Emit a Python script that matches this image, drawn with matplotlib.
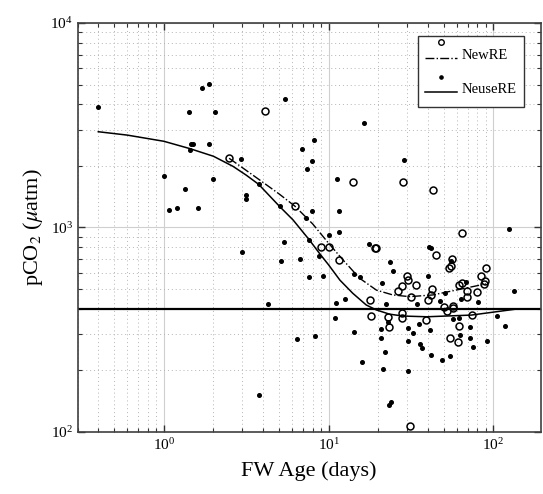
import numpy as np
import matplotlib
matplotlib.use('Agg')
import matplotlib.pyplot as plt
from matplotlib.lines import Line2D
from matplotlib.legend_handler import HandlerLine2DCompound

# pCO2 vs freshwater age, two estuaries, log-log

plt.rcParams['font.family'] = ['Liberation Serif', 'DejaVu Serif']
plt.rcParams['mathtext.fontset'] = 'stix'

# NewRE observations (open circles)
new_age = [2.49, 4.13, 14.0, 28.4, 42.7, 6.25, 64.3, 8.98, 10.1, 19.0, 19.4, 11.6,
           17.8, 18.1, 23.0, 23.1, 27.7, 26.4, 29.7, 30.3, 34.0, 31.8, 27.8, 27.8,
           31.3, 39.0, 42.1, 40.0, 41.7, 44.9, 49.8, 52.1, 53.6, 55.1, 56.0, 56.6,
           56.6, 54.4, 61.1, 62.0, 61.6, 64.0, 68.9, 68.9, 73.8, 79.2, 84.2, 89.5,
           89.1, 87.9]
new_pco2 = [2180, 3720, 1660, 1660, 1520, 1270, 940, 806, 806, 791, 791, 693,
            442, 368, 365, 325, 519, 488, 577, 553, 524, 456, 382, 361,
            107, 353, 500, 442, 469, 734, 408, 392, 631, 646, 698, 415,
            404, 287, 277, 330, 524, 535, 491, 459, 373, 485, 579, 631,
            550, 527]

# NeuseRE observations (dots)
neuse_age = [0.40, 1.43, 1.70, 1.89, 2.05, 1.47, 1.50, 1.44, 1.89, 1.00, 2.00, 1.35,
             1.07, 1.20, 1.62, 2.92, 3.14, 3.14, 3.76, 5.43, 16.5, 6.89, 8.19, 7.89,
             7.39, 28.6, 11.3, 11.6, 5.05, 7.26, 7.89, 7.56, 5.39, 11.5, 10.1, 125,
             17.5, 40.5, 41.5, 2.96, 5.14, 6.70, 8.78, 7.64, 9.29, 14.2, 15.4, 21.2,
             4.29, 11.1, 12.6, 22.2, 11.0, 20.7, 20.7, 14.2, 6.40, 8.30, 22.1, 16.0,
             21.5, 3.80, 23.9, 23.3, 24.5, 23.5, 22.9, 30.5, 30.5, 32.7, 30.5, 34.4,
             35.3, 36.0, 36.9, 40.0, 41.3, 41.7, 47.1, 48.9, 50.7, 55.6, 54.7, 56.6,
             61.6, 63.1, 63.7, 68.2, 72.2, 71.6, 75.0, 80.8, 91.6, 105, 117, 134]
neuse_pco2 = [3900, 3680, 4800, 5050, 3680, 2560, 2570, 2400, 2560, 1790, 1730, 1540,
              1220, 1250, 1240, 2160, 1440, 1380, 1640, 4270, 3250, 2420, 2670, 2120,
              1930, 2130, 1720, 1200, 1270, 1110, 1200, 871, 853, 955, 916, 980,
              828, 806, 791, 756, 684, 703, 726, 573, 581, 594, 573, 537,
              423, 428, 447, 421, 360, 319, 289, 308, 284, 294, 247, 220,
              203, 151, 140, 135, 613, 678, 344, 324, 279, 304, 198, 421,
              336, 268, 257, 581, 315, 237, 437, 225, 480, 689, 235, 356,
              359, 297, 449, 540, 325, 289, 261, 434, 279, 369, 330, 488]

# model curves
new_fit_age = [2.49, 3.0, 3.82, 5.0, 6.25, 8.0, 10.0, 12.2, 15.4, 19.5, 24.5, 31.0, 42.9, 63.6, 90.0]
new_fit_pco2 = [2180, 1960, 1706, 1460, 1270, 1041, 837, 695, 565, 494, 468, 459, 468, 500, 530]

neuse_fit_age = [0.40, 0.60, 1.0, 1.44, 2.0, 2.63, 3.17, 3.76, 5.05, 6.08, 7.64, 8.82,
                 10.0, 11.7, 14.0, 16.9, 19.5, 23.4, 28.2, 39.4, 73.3, 134]
neuse_fit_pco2 = [2940, 2830, 2640, 2430, 2230, 1990, 1800, 1626, 1265, 1089, 869, 745,
                  656, 553, 477, 418, 395, 377, 369, 366, 373, 398]

atm_pco2 = 400


class MarkerAbove(HandlerLine2DCompound):
    # matlab style legend: marker sits above the line sample
    def create_artists(self, legend, orig_handle, xdescent, ydescent, width, height, fontsize, trans):
        arts = super().create_artists(legend, orig_handle, xdescent, ydescent, width, height, fontsize, trans)
        line, mark = arts
        line.set_ydata(np.asarray(line.get_ydata()) - 0.28*height)
        mark.set_ydata(np.asarray(mark.get_ydata()) + 0.40*height)
        return arts


fig = plt.figure(figsize=(5.43, 4.94), dpi=100)
ax = fig.add_axes([77.7/543, 62/494, (540.5-77.7)/543, 409/494])

ax.plot(new_age, new_pco2, marker='o', linestyle='', mfc='none', mec='k', ms=5.0, mew=1.1)
ax.plot(neuse_age, neuse_pco2, marker='o', linestyle='', color='k', ms=2.6)
ax.plot(new_fit_age, new_fit_pco2, color='k', ls='-.', lw=1.0)
ax.plot(neuse_fit_age, neuse_fit_pco2, color='k', ls='-', lw=1.1)
ax.axhline(atm_pco2, color='k', lw=1.6)

ax.set_xscale('log')
ax.set_yscale('log')
ax.set_xlim(0.3, 193)
ax.set_ylim(100, 10000)

ax.grid(True, which='major', color='#cfcfcf', lw=0.8, ls='-')
ax.grid(True, which='minor', color='#b5b5b5', lw=0.7, ls=(0, (1, 3)))
ax.set_axisbelow(True)
ax.tick_params(which='both', direction='in', top=True, right=True, labelsize=11, colors='#333333', labelcolor='k')
ax.tick_params(which='major', length=5, width=1)
ax.tick_params(which='minor', length=3, width=0.8)
for s in ax.spines.values():
    s.set_color('#404040')
    s.set_linewidth(1.2)

ax.set_xlabel('FW Age (days)', fontsize=16, labelpad=6)
ax.set_ylabel('pCO$_2$ ($\\mu$atm)', fontsize=16, labelpad=4)

h_new = Line2D([], [], color='k', ls='-.', lw=1.0, marker='o', mfc='none', mec='k', ms=4, mew=1.0)
h_neuse = Line2D([], [], color='k', ls='-', lw=1.1, marker='o', ms=2.3)
leg = ax.legend([h_new, h_neuse], ['NewRE', 'NeuseRE'], loc='upper right',
                bbox_to_anchor=(0.964, 0.968), borderaxespad=0, fontsize=10.5,
                handler_map={Line2D: MarkerAbove()}, handleheight=2.0, handlelength=2.2,
                handletextpad=0.3, labelspacing=0.8, borderpad=0.5, fancybox=False,
                framealpha=1, edgecolor='#333333')
leg.get_frame().set_linewidth(1.0)

fig.savefig('out.png', dpi=100)
